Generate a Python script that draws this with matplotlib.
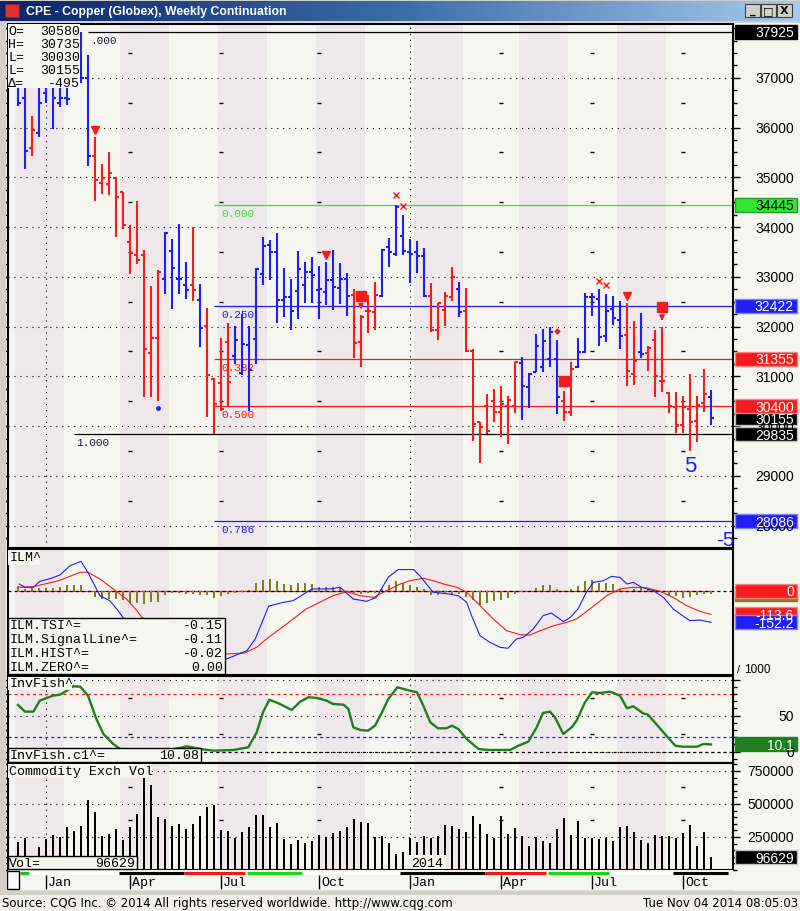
import matplotlib
matplotlib.use("Agg")
import matplotlib.pyplot as plt
import numpy as np
from matplotlib.patches import Rectangle
from matplotlib.colors import LinearSegmentedColormap

plt.rcParams["lines.scale_dashes"] = False
plt.rcParams["font.family"] = ["Liberation Sans", "DejaVu Sans"]
MONO = ["Liberation Mono", "DejaVu Sans Mono"]

# ---- weekly OHLC, Dec 2012 .. Nov 2014 -------------------------------------
opens = [36900, 36600, 35589, 35892, 36700, 36900, 36500, 36600, 36900, 37300,
         37000, 35434, 34880, 34862, 34984, 34714, 33700, 33436, 33436, 31470,
         31773, 32965, 33516, 32965, 32830, 32830, 32527, 32022, 30940, 30858,
         31699, 31412, 31071, 31632, 31753, 33066, 33638, 33503, 32527, 32594,
         32715, 32830, 33099, 32743, 32695, 32944, 32783, 32965, 32628, 31700,
         32320, 32288, 32623, 33608, 33461, 33829, 33508, 33494, 33414, 32623,
         31940, 32342, 32603, 32750, 32321, 31518, 30077, 30412, 30499, 30278,
         30412, 30412, 31270, 30780, 31082, 31183, 31350, 31350, 30499, 30291,
         31183, 31498, 32589, 32556, 31819, 32355, 32134, 31839, 31049, 31484,
         31464, 31739, 30901, 30660, 30392, 30023, 30345, 30111, 30459, 30580]
highs = [37300, 36950, 36229, 36800, 37200, 37200, 37000, 37100, 37500, 37925,
         37460, 35805, 35266, 35502, 34997, 34714, 34041, 34533, 33537, 32817,
         33133, 33907, 33752, 34055, 33301, 33994, 32864, 32379, 30960, 31773,
         32069, 32009, 32258, 32017, 33187, 33806, 33739, 33887, 33187, 32965,
         33523, 33301, 33402, 33220, 33301, 33537, 33288, 33086, 32763, 32240,
         32636, 32891, 33561, 33782, 34445, 34244, 33762, 33722, 33581, 32871,
         32476, 32690, 33206, 32891, 32777, 31551, 30077, 30646, 30747, 30801,
         30613, 31296, 31384, 31062, 31853, 31953, 32000, 31739, 30714, 31283,
         31766, 32670, 32670, 32757, 32656, 32610, 32522, 32469, 32107, 32275,
         31618, 31933, 32000, 30693, 30693, 30613, 31049, 30613, 31149, 30735]
lows = [36430, 35170, 35421, 35805, 36498, 35980, 36410, 36450, 36800, 36900,
        35232, 34526, 34660, 34647, 33806, 33961, 33052, 33254, 30589, 30576,
        30508, 32648, 32345, 32662, 32561, 32507, 31598, 30185, 29835, 30306,
        30394, 31248, 31020, 30310, 31241, 32830, 32931, 32069, 32190, 31935,
        32144, 32473, 32473, 32144, 32440, 32325, 32460, 32204, 31375, 31193,
        31866, 31940, 32589, 33193, 33427, 33447, 32871, 33072, 32589, 31899,
        31739, 32020, 32509, 32201, 31484, 29709, 29260, 29843, 30077, 29776,
        29642, 30258, 30131, 30358, 31082, 31082, 31196, 30245, 30097, 30198,
        31169, 31464, 32221, 31618, 31685, 32040, 31551, 30814, 30834, 31370,
        31102, 30593, 30680, 30258, 29856, 29856, 29508, 29675, 30278, 30030]
closes = [36500, 35535, 35946, 36500, 36900, 36600, 36600, 36565, 37300, 37000,
          35435, 34950, 34990, 35085, 34613, 34041, 33489, 33335, 31551, 31773,
          33099, 33873, 33180, 32965, 32729, 32729, 31975, 31033, 30443, 30339,
          30892, 31730, 31652, 31120, 33166, 33617, 33503, 32527, 32594, 32312,
          33153, 33099, 33032, 32749, 32944, 32796, 32965, 32614, 31679, 32200,
          32320, 32636, 33541, 33494, 34412, 33528, 33461, 33414, 32623, 31933,
          32476, 32623, 32991, 32300, 31518, 30044, 29990, 29910, 30278, 30445,
          30526, 31296, 30814, 31049, 31618, 31719, 31886, 30579, 30291, 31149,
          31498, 32589, 32589, 31786, 32321, 32174, 31819, 31102, 31300, 31450,
          31571, 31015, 30901, 30412, 30023, 30378, 30077, 30425, 30650, 30155]
trend = ("BBRBBBBBBBB" "RRRRRRRRRR" "BBBB" "R" "B" "RRRR" "BBBBBBBBBBBBBBBBB"
         "RRRR" "BBBBBBB" "RRRR" "B" "RRRRRRRR" "BBBBBB" "RR" "BBBBBBB" "RR"
         "B" "RRRRRRRRR" "B")

volume_k = [214, 242, 60, 174, 235, 265, 248, 323, 298, 331, 530, 442, 255, 273,
            311, 230, 323, 424, 695, 644, 399, 386, 336, 348, 311, 348, 411, 475,
            492, 305, 298, 240, 290, 326, 417, 417, 326, 356, 235, 197, 230, 205,
            222, 265, 248, 280, 298, 323, 386, 366, 356, 252, 255, 205, 121,
            134, 242, 210, 255, 240, 255, 341, 331, 311, 285, 407, 348, 273, 242,
            407, 273, 318, 255, 180, 248, 222, 205, 311, 392, 265, 369, 242, 242,
            235, 242, 222, 323, 331, 290, 230, 205, 265, 255, 255, 242, 280, 341,
            180, 290, 96.629]

# ILM (TSI) indicator, traced vertices (week, value)
tsi_w = [0.2, 1, 2.2, 3.1, 4.8, 6, 7.4, 9, 10, 11.7, 13.1, 14.1, 15, 17, 20, 24,
         27, 29.8, 32.7, 33.9, 35.8, 37.9, 39.3, 42, 44.6, 46, 47.9, 49.8, 51.2,
         52.9, 54.3, 56.5, 57.4, 59.3, 61.7, 62.9, 64.1, 64.8, 66, 67.4, 68.9,
         70, 71.2, 72.2, 73.6, 75, 76.2, 77.2, 77.9, 78.9, 80, 81.2, 82.2, 83.6,
         84.8, 86, 87, 87.9, 89.1, 90.8, 92.2, 93.6, 94.6, 96, 97.4, 99]
tsi_v = [34, 18, 18, 47, 62, 78, 122, 144, 90, -23, -47, -87, -128, -200, -280,
         -330, -335, -330, -290, -233, -74, -55, -47, 10, 10, 18, -39, -50, -31,
         67, 104, 104, 74, -6, -15, -23, -55, -120, -217, -249, -274, -278,
         -233, -225, -185, -120, -107, -131, -149, -128, -87, -6, 42, 50, 71,
         66, 34, 42, 18, 1, -31, -87, -112, -144, -141, -152.2]
sig_w = [0, 2.2, 5.8, 8.9, 10, 11.7, 13.6, 15.5, 17, 17.7, 21, 25, 28, 29.8,
         32.4, 34.1, 35.5, 37.4, 39.3, 41.2, 43.1, 45, 47, 48.9, 50.8, 52.2,
         54.6, 56, 57.9, 59.3, 60.8, 62.7, 64.1, 66, 67.9, 69.8, 71.7, 73.1,
         74.6, 76.5, 78.4, 79.8, 81.7, 84.1, 86, 87.9, 89.8, 91.7, 93.6, 95.5,
         97.4, 99]
sig_v = [18, 21, 50, 91, 91, 58, 10, -39, -96, -128, -200, -260, -300, -306,
         -301, -273, -233, -185, -136, -87, -55, -23, -3, -23, -31, -6, 34, 50,
         62, 50, 34, 18, -6, -71, -136, -193, -212, -214, -193, -169, -152,
         -136, -87, -23, 10, 18, 15, -1, -31, -71, -99, -113.6]
hist = [23, 10, 15, 15, 15, 15, 19, 28, 28, 28, 0, -29, -37, -37, -40, -45, -57,
        -57, -62, -53, -53, -18, -10, -10, -13, -13, -18, -21, -34, -26, -13,
        -10, -5, 6, 39, 52, 60, 49, 35, 28, 39, 39, 33, 19, 19, 19, 19, 0, -10,
        -13, -10, -10, 11, 28, 47,
        39, 28, 19, 8, -21, -21, -10, -13, -13, -29, -45, -67, -57, -50, -45,
        -34, -13, -5, 0, 15, 28, 28, 11, 0, 11, 24, 47, 55, 39, 40, 35, 11, 0,
        11, 15, 11, 5, -10, -21, -26, -34, -29, -21, -13, -16]

# Inverse Fisher oscillator, traced vertices
fish_w = [0.0, 1.0, 2.2, 3.1, 5.0, 6.0, 7.0, 7.9, 8.9, 10.0, 11.2, 12.2, 13.6,
          14.6, 17.4, 21.0, 24.1, 26.0, 27.9, 30.8, 32.9, 34.1, 35.0, 35.9,
          37.4, 39.1, 40.3, 41.5, 42.7, 44.1, 45.0, 46.5, 47.2, 47.9, 48.9,
          50.0, 51.0, 52.0, 52.9, 54.2, 56.0, 57.0, 57.9, 58.9, 60.0, 61.2,
          62.0, 62.9, 64.1, 65.8, 67.0, 70.3, 71.5, 72.9, 74.1, 75.0, 76.0,
          76.7, 77.9, 79.1, 79.8, 81.0, 82.0, 83.1, 84.6, 86.0, 87.0, 87.9,
          89.3, 90.0, 92.2, 93.9, 95.0, 97.0, 97.9, 99.0]
fish_v = [64.9, 55.6, 55.6, 70.8, 77.8, 79.2, 84.7, 90.8, 90.3, 77.8, 45.4, 24.6,
          10.7, 3.8, 1.0, 0.5, 7.5, 3.8, 1.4, 2.4, 6.1, 26.9, 54.7, 72.2, 66.3,
          57.9, 69.4, 75.6, 74.6, 70.8, 66.3, 65.3, 59.3, 33.9, 30.1, 29.2, 36.1,
          54.7, 73.2, 89.4, 84.7, 82.5, 63.9, 40.8, 32.5, 32.5, 36.1, 31.5, 17.6,
          3.8, 2.4, 2.4, 8.3, 13.9, 33.9, 53.8, 55.6, 47.8, 24.6, 33.9, 43.1,
          68.6, 82.5, 81.5, 83.3, 77.8, 60.3, 63.1, 53.3, 51.4, 26.9, 8.3, 6.9,
          6.9, 10.7, 10.08]

# chart studies / signals
fib_a = [(37925, ".000"), (29835, "1.000")]
fib_b = [(34445, "0.000"), (32422, "0.250"), (31355, "0.382"),
         (30400, "0.500"), (28086, "0.786")]
sell_weeks = [11, 44, 87]
stop_weeks = [49, 78, 92]
stop_price = [32620, 30900, 32390]
cross_weeks = [54, 55, 83, 84]
cross_price = [34650, 34430, 32920, 32836]
month_weeks = [4, 16, 29, 43, 56, 69, 82, 95]
month_names = ["Jan", "Apr", "Jul", "Oct", "Jan", "Apr", "Jul", "Oct"]
year_weeks = [4, 56]
roll_bars = [(0.3, 1.6, "#18c018"), (1.6, 14.4, "white"), (14.4, 23.7, "black"),
             (23.7, 32.4, "#f01818"), (32.7, 40.6, "#18d818"),
             (40.6, 54.6, "white"), (54.6, 66.7, "black"),
             (66.7, 75.4, "#f01818"), (75.7, 84.4, "#18d818"),
             (84.7, 93.6, "white"), (93.6, 101.4, "black")]
shade_start = [-0.43, 14.57, 28.57, 42.57, 56.57, 71.57, 85.57]

# ---- styling ---------------------------------------------------------------
BG = "#f6f6f1"
SHADE = "#eee8ea"
BLUE = "#1e1ef5"
RED = "#f41c1c"
GREENF = "#33e633"
OLIVE = "#80801a"
FISH = "#1f7f1f"
DOT = (0, (0.8, 3.5))
W, H = 800, 912
XMIN, XMAX = (8 - 18) / 7, (733 - 18) / 7

fig = plt.figure(figsize=(W / 100, H / 100), dpi=100, facecolor=BG)
weeks = np.arange(len(closes))
vols = np.array(volume_k) * 1000


def panel(y0, y1, shade=True):
    ax = fig.add_axes([8 / W, 1 - y1 / H, 725 / W, (y1 - y0) / H])
    ax.set_facecolor(BG)
    ax.set_xlim(XMIN, XMAX)
    ax.set_xticks([])
    for s in ax.spines.values():
        s.set_color("black")
        s.set_linewidth(1.5)
    if shade:
        for s in shade_start:
            ax.axvspan(s, s + 7, color=SHADE, lw=0, zorder=0)
    ax.tick_params(axis="y", which="both", right=True, left=True,
                   labelleft=False, labelright=False, direction="out",
                   color="black", width=1)
    ax.tick_params(axis="y", which="major", length=5)
    ax.tick_params(axis="y", which="minor", length=3)
    return ax


# ---- price panel -----------------------------------------------------------
ax = panel(25, 549)
ax.set_ylim(27550, 38082)
ax.set_yticks(np.arange(28000, 38000, 1000))
ax.set_yticks(np.arange(27750, 38082, 250), minor=True)
ax.grid(axis="y", color="black", ls=DOT, lw=0.8)
for yw in year_weeks:
    ax.axvline(yw, color="black", ls=DOT, lw=0.8, zorder=1)
half = np.arange(28500, 38000, 1000)
for mw in month_weeks:
    if mw not in year_weeks:
        ax.plot([mw] * len(half), half, ls="none", marker="_", ms=2.5,
                mew=1, color="black", zorder=1)

cols = [BLUE if t == "B" else RED for t in trend]
ax.vlines(weeks, lows, highs, colors=cols, lw=1.5, zorder=3)
ax.hlines(opens, weeks - 0.42, weeks, colors=cols, lw=1.5, zorder=3)
ax.hlines(closes, weeks, weeks + 0.42, colors=cols, lw=1.5, zorder=3)

start_a = [10, 8]
for (lvl, lab), st in zip(fib_a, start_a):
    ax.hlines(lvl, st, XMAX, color="black", lw=0.9, zorder=2)
    ax.text(st + 0.3, lvl - 60, lab, va="top", ha="left", fontsize=8,
            family=MONO, color="#1a1a40", zorder=2)
fib_cols = [GREENF, BLUE, RED, RED, BLUE]
for (lvl, lab), c in zip(fib_b, fib_cols):
    ax.hlines(lvl, 28, XMAX, color=c, lw=0.9, zorder=2)
    ax.text(29.1, lvl - 60, lab, va="top", ha="left", fontsize=8,
            family=MONO, color=c, zorder=2)

ax.plot(sell_weeks, [highs[i] + 140 for i in sell_weeks], ls="none",
        marker="v", ms=6, color=RED, zorder=4)
ax.plot(stop_weeks, stop_price, ls="none", marker="s", ms=6.5, color=RED,
        zorder=4)
for w, p in zip(stop_weeks, stop_price):
    if w != 78:
        ax.annotate("", xy=(w, p - 330), xytext=(w, p - 140),
                    arrowprops=dict(arrowstyle="-|>", color=RED, lw=1.5,
                                    mutation_scale=6), zorder=4)
ax.plot(cross_weeks, cross_price, ls="none", marker="x", ms=5, mew=1,
        color=RED, zorder=4)
ax.plot([20], [lows[20] - 150], ls="none", marker="o", ms=2.5, color=BLUE)
ax.plot([77], [highs[77] + 165], ls="none", marker="D", ms=2.5, color=RED)
ax.text(96, 29200, "5", color=BLUE, fontsize=16, ha="center", va="center")
ax.text(99.7, 27720, "-5", color=BLUE, fontsize=15, ha="left", va="center",
        clip_on=True)

# ---- ILM panel -------------------------------------------------------------
ai = panel(550, 676)
ai.set_ylim(-408, 204)
ai.set_yticks([])
ai.bar(weeks, hist, width=0.3, color=OLIVE, zorder=2)
ai.hlines(0, 0, 99, color=RED, lw=0.9, zorder=1)
ai.axhline(0, color="black", ls=(0, (2.2, 2.2)), lw=0.9, zorder=1)
ai.plot(sig_w, sig_v, color=RED, lw=0.8, zorder=3)
ai.plot(tsi_w, tsi_v, color=BLUE, lw=0.8, zorder=3)

# ---- InvFish panel ---------------------------------------------------------
af = panel(677, 764)
af.set_ylim(-15.7, 105.1)
af.set_yticks([0, 50, 100])
af.set_yticks(np.arange(-10, 105, 10), minor=True)
af.grid(axis="y", color="black", ls=DOT, lw=0.8)
for yw in year_weeks:
    af.axvline(yw, color="black", ls=DOT, lw=0.8, zorder=1)
for mw in month_weeks:
    if mw not in year_weeks:
        af.plot([mw, mw], [25, 75], ls="none", marker="_", ms=2.5, mew=1,
                color="black", zorder=1)
af.axhline(80, color=RED, ls=(0, (2.2, 2.2)), lw=0.9)
af.axhline(20, color=BLUE, ls=(0, (2.2, 2.2)), lw=0.9)
af.axhline(0, color="black", ls=(0, (2.2, 2.2)), lw=0.9)
af.plot(fish_w, fish_v, color=FISH, lw=1.7, zorder=3)

# ---- volume panel ----------------------------------------------------------
av = panel(764, 871)
av.set_ylim(0, 810600)
av.set_yticks([250000, 500000, 750000])
av.set_yticks(np.arange(0, 810000, 50000), minor=True)
av.grid(axis="y", color="black", ls=DOT, lw=0.8)
for yw in year_weeks:
    av.axvline(yw, color="black", ls=DOT, lw=0.8, zorder=1)
for mw in month_weeks:
    if mw not in year_weeks:
        av.plot([mw, mw], [375000, 625000], ls="none", marker="_", ms=2.5,
                mew=1, color="black", zorder=1)
av.bar(weeks, vols, width=0.3, color="black", zorder=2)

# ---- date strip ------------------------------------------------------------
ad = panel(871, 892, shade=False)
ad.set_ylim(0, 1)
ad.set_yticks([])
ad.tick_params(axis="y", which="both", left=False, right=False)
for s in ["top", "left", "right"]:
    ad.spines[s].set_visible(False)
ad.spines["bottom"].set_linewidth(1)
ad.spines["bottom"].set_color("#808080")
for a, b, c in roll_bars:
    ad.hlines(0.88, a, b, color=c, lw=2.2)
for mw, nm in zip(month_weeks, month_names):
    ad.vlines(mw, 0.1, 0.75, color="black", lw=1)
    ad.text(mw + 0.3, 0.42, nm, family=MONO, fontsize=9.5, va="center",
            ha="left")

# ---- overlay: legends, right scale, window chrome ---------------------------
ov = fig.add_axes([0, 0, 1, 1], zorder=10)
ov.set_xlim(0, W)
ov.set_ylim(H, 0)
ov.axis("off")
ov.patch.set_visible(False)


def ypix(a, v):
    return H - a.transData.transform((0, v))[1]


def rlabel(a, v, txt, fc=None, tc="black", ec=None):
    y = ypix(a, v)
    if fc is not None:
        ov.add_patch(Rectangle((735, y - 7), 62, 14, fc=fc,
                               ec=ec if ec else fc, lw=1))
    ov.text(794, y + 0.5, txt, ha="right", va="center", color=tc,
            fontsize=10)


for v in range(28000, 38000, 1000):
    rlabel(ax, v, str(v))
rlabel(ax, 37925, "37925", "black", "white")
rlabel(ax, 34445, "34445", GREENF, "black", "#20a020")
rlabel(ax, 32422, "32422", BLUE, "white", "#8080ff")
rlabel(ax, 31355, "31355", RED, "white", "#ff8080")
rlabel(ax, 30155, "30155", "black", "white", "#c0c0c0")
rlabel(ax, 30400, "30400", RED, "white", "#ff8080")
rlabel(ax, 29835, "29835", "black", "white", "#c0c0c0")
rlabel(ax, 28086, "28086", BLUE, "white", "#8080ff")

rlabel(ai, hist[-1], "", OLIVE)
rlabel(ai, 0, "0", RED, "white", "#ff8080")
rlabel(ai, sig_v[-1], "-113.6", RED, "white", "#ff8080")
rlabel(ai, tsi_v[-1], "-152.2", BLUE, "white", "#8080ff")
ov.text(737, 670, "/", fontsize=8, va="center")
ov.text(771, 670, "1000", fontsize=8.5, va="center", ha="right")

rlabel(af, 50, "50")
rlabel(af, 0, "0")
rlabel(af, fish_v[-1], "10.1", FISH, "white")

for v in [250000, 500000, 750000]:
    rlabel(av, v, str(v))
rlabel(av, vols[-1], "96629", "black", "white", "#c0c0c0")

# OHLC legend
ov.add_patch(Rectangle((8, 25), 72, 64, fc=BG, ec="none"))
for k, (lab, val) in enumerate([("O=", "30580"), ("H=", "30735"),
                                ("L=", "30030"), ("L=", "30155"),
                                ("\u0394=", "-495")]):
    ov.text(8, 32 + 12.9 * k, lab, family=MONO, fontsize=9.5, va="center")
    ov.text(80, 32 + 12.9 * k, val, family=MONO, fontsize=9.5, va="center",
            ha="right")

# study legends
ov.add_patch(Rectangle((8, 551), 32, 15, fc=BG, ec="none"))
ov.text(10, 558.5, "ILM^", family=MONO, fontsize=9.5, va="center")
ov.add_patch(Rectangle((8, 619), 217, 56, fc=BG, ec="black", lw=1))
for k, (lab, val) in enumerate([("ILM.TSI^=", "-0.15"),
                                ("ILM.SignalLine^=", "-0.11"),
                                ("ILM.HIST^=", "-0.02"),
                                ("ILM.ZERO^=", "0.00")]):
    ov.text(10, 626 + 14 * k, lab, family=MONO, fontsize=9.5, va="center")
    ov.text(223, 626 + 14 * k, val, family=MONO, fontsize=9.5, va="center",
            ha="right")
ov.add_patch(Rectangle((8, 678), 64, 13, fc=BG, ec="none"))
ov.text(10, 684.5, "InvFish^", family=MONO, fontsize=9.5, va="center")
ov.add_patch(Rectangle((8, 749), 193, 14, fc=BG, ec="black", lw=1))
ov.text(10, 756, "InvFish.c1^=", family=MONO, fontsize=9.5, va="center")
ov.text(199, 756, "10.08", family=MONO, fontsize=9.5, va="center", ha="right")
ov.add_patch(Rectangle((8, 765), 144, 14, fc=BG, ec="none"))
ov.text(9, 772, "Commodity Exch Vol", family=MONO, fontsize=9.5, va="center")
ov.add_patch(Rectangle((8, 857), 129, 13, fc=BG, ec="black", lw=1))
ov.text(9, 864, "Vol=", family=MONO, fontsize=9.5, va="center")
ov.text(135, 864, "96629", family=MONO, fontsize=9.5, va="center", ha="right")
ov.add_patch(Rectangle((409, 856), 37, 14, fc=BG, ec="none"))
ov.text(411, 864, "2014", family=MONO, fontsize=9.5, va="center")
ov.add_patch(Rectangle((7, 872), 12, 18, fc="white", ec="black", lw=1))

# left gray frame strip and bottom status bar
ov.add_patch(Rectangle((0, 24), 6, 869, fc="#d4d0c8", ec="none"))
ov.add_patch(Rectangle((0, 892), W, 4, fc="#d4d0c8", ec="none"))
ov.add_patch(Rectangle((0, 896), W, 16, fc="#f1f0ea", ec="none"))
ov.text(2, 904, "Source: CQG Inc. \u00a9 2014 All rights reserved worldwide. "
        "http://www.cqg.com", fontsize=8.5, va="center", family="DejaVu Sans")
ov.text(798, 904, "Tue Nov 04 2014 08:05:03", fontsize=8.5, va="center",
        ha="right", family="DejaVu Sans")

# title bar
tb = fig.add_axes([0, 1 - 24 / H, 1, 24 / H], zorder=11)
grad = np.linspace(0, 1, 256)[None, :]
cmap = LinearSegmentedColormap.from_list("tb", ["#0a246a", "#3a6ea5", "#a6caf0"])
tb.imshow(grad, aspect="auto", cmap=cmap, extent=[0, W, 24, 0])
tb.set_xlim(0, W)
tb.set_ylim(24, 0)
tb.axis("off")
tb.add_patch(Rectangle((0, 0), W, 2, fc="#d4d0c8", ec="none"))
tb.add_patch(Rectangle((0, 22), W, 2, fc="#d4d0c8", ec="none"))
tb.add_patch(Rectangle((5, 5), 14, 13, fc="#e03030", ec="#902020", lw=0.5))
tb.text(26, 12.5, "CPE - Copper (Globex), Weekly Continuation", color="white",
        fontsize=8.8, fontweight="bold", va="center", family="Liberation Sans")
for bx, glyph in [(745, "_"), (761, "\u25a1"), (777, "X")]:
    tb.add_patch(Rectangle((bx, 5), 15, 13, fc="#d4d0c8", ec="#404040",
                           lw=0.8))
    tb.text(bx + 7.5, 11.5, glyph, fontsize=8, ha="center", va="center",
            fontweight="bold", family="DejaVu Sans")

fig.savefig("out.png", dpi=100, facecolor=fig.get_facecolor())
